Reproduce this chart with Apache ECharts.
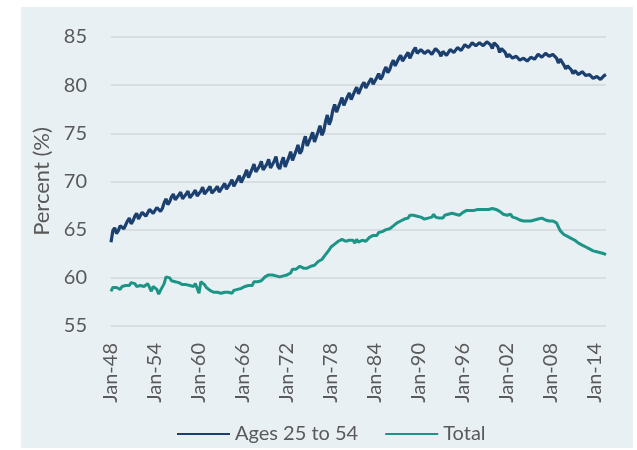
<!DOCTYPE html>
<html>
<head>
<meta charset="utf-8">
<script src="https://cdn.jsdelivr.net/npm/echarts@6/dist/echarts.min.js"></script>
<style>
html,body{margin:0;padding:0;background:#ffffff;}
#chart{width:637px;height:450px;}
</style>
</head>
<body>
<div id="chart"></div>
<script>
// Quarterly observations, Jan-1948 .. Jul-2015
const startYear = 1948;
const quarterMonths = ['Jan', 'Apr', 'Jul', 'Oct'];
const tickLabels = ['Jan-48','Jan-54','Jan-60','Jan-66','Jan-72','Jan-78','Jan-84','Jan-90','Jan-96','Jan-02','Jan-08','Jan-14'];
const seriesNames = ['Ages 25 to 54', 'Total'];

const ages25to54 = [
  63.7, 64.9, 65.2, 64.6,  // 1948
  64.9, 65.4, 65.6, 65.1,
  65.3, 65.9, 66.2, 65.6,  // 1950
  65.9, 66.4, 66.7, 66.1,
  66.2, 66.8, 67.0, 66.4,
  66.5, 67.1, 67.2, 66.7,
  66.8, 67.3, 67.5, 66.9,
  67.2, 67.8, 68.2, 67.6,  // 1955
  67.9, 68.4, 68.7, 68.1,
  68.1, 68.6, 68.9, 68.2,
  68.2, 68.7, 69.0, 68.3,
  68.3, 68.8, 69.1, 68.5,
  68.5, 69.0, 69.4, 68.7,  // 1960
  68.7, 69.2, 69.5, 68.8,
  68.7, 69.2, 69.5, 68.9,
  69.0, 69.5, 69.8, 69.2,
  69.2, 69.8, 70.2, 69.5,
  69.6, 70.2, 70.6, 69.9,  // 1965
  70.0, 70.7, 71.2, 70.4,
  70.6, 71.3, 71.8, 71.0,
  70.9, 71.6, 72.1, 71.2,
  71.1, 71.8, 72.3, 71.4,
  71.4, 72.1, 72.6, 71.6,  // 1970
  71.3, 72.0, 72.5, 71.5,
  71.7, 72.5, 73.1, 72.2,
  72.3, 73.2, 73.8, 72.9,
  73.2, 74.1, 74.7, 73.7,
  73.7, 74.6, 75.1, 74.1,  // 1975
  74.3, 75.2, 75.8, 74.8,
  75.2, 76.2, 76.9, 75.9,
  76.4, 77.4, 78.0, 77.2,
  77.4, 78.2, 78.7, 77.9,
  78.0, 78.8, 79.2, 78.5,  // 1980
  78.6, 79.4, 79.8, 79.1,
  79.3, 80.0, 80.3, 79.7,
  79.8, 80.4, 80.7, 80.1,
  80.2, 80.8, 81.2, 80.6,
  80.9, 81.5, 81.9, 81.3,  // 1985
  81.6, 82.2, 82.6, 82.0,
  82.2, 82.8, 83.1, 82.5,
  82.5, 83.1, 83.4, 82.8,
  83.0, 83.6, 83.9, 83.3,
  83.2, 83.7, 83.8, 83.3,  // 1990
  83.1, 83.6, 83.7, 83.2,
  83.3, 83.8, 83.9, 83.4,
  83.0, 83.5, 83.6, 83.1,
  83.2, 83.7, 83.8, 83.4,
  83.4, 83.9, 84.0, 83.6,  // 1995
  83.7, 84.2, 84.3, 83.9,
  83.9, 84.4, 84.5, 84.1,
  83.9, 84.4, 84.5, 84.1,
  83.9, 84.5, 84.6, 84.2,
  83.8, 84.4, 84.5, 84.0,  // 2000
  83.4, 83.8, 83.9, 83.4,
  82.9, 83.2, 83.3, 82.8,
  82.7, 83.0, 83.1, 82.6,
  82.5, 82.8, 82.9, 82.5,
  82.6, 82.9, 83.0, 82.7,  // 2005
  82.8, 83.2, 83.3, 82.9,
  82.9, 83.3, 83.4, 83.0,
  82.8, 83.2, 83.3, 82.8,
  82.3, 82.7, 82.6, 82.1,
  81.7, 82.0, 82.1, 81.6,  // 2010
  81.2, 81.5, 81.6, 81.1,
  81.0, 81.4, 81.5, 81.0,
  80.8, 81.1, 81.2, 80.7,
  80.6, 80.9, 81.0, 80.6,
  80.7, 81.0, 81.1         // 2015
];

const total = [
  58.6, 59.0, 58.8, 59.0,  // 1948
  58.9, 58.8, 59.1, 59.0,
  59.2, 59.4, 59.2, 59.5,  // 1950
  59.3, 59.4, 59.1, 59.3,
  59.2, 59.4, 59.1, 59.3,
  59.4, 59.0, 58.6, 59.1,
  59.0, 58.8, 58.3, 58.7,
  58.9, 59.4, 60.1, 59.9,  // 1955
  60.0, 59.7, 59.8, 59.6,
  59.7, 59.5, 59.6, 59.3,
  59.4, 59.3, 59.5, 59.2,
  59.3, 59.1, 59.4, 59.2,
  58.4, 59.6, 59.5, 59.3,  // 1960
  59.0, 58.9, 58.7, 58.6,
  58.5, 58.4, 58.5, 58.3,
  58.4, 58.3, 58.5, 58.4,
  58.5, 58.6, 58.4, 58.7,
  58.6, 58.8, 58.7, 58.9,  // 1965
  59.0, 59.1, 58.9, 59.2,
  59.3, 59.2, 59.6, 59.5,
  59.6, 59.8, 59.7, 59.9,
  60.1, 60.0, 60.3, 60.2,
  60.3, 60.4, 60.2, 60.3,  // 1970
  60.1, 60.0, 60.2, 60.1,
  60.3, 60.2, 60.5, 60.9,
  61.0, 60.9, 61.1, 61.2,
  61.1, 61.0, 61.2, 61.0,
  61.1, 61.2, 61.0, 61.3,  // 1975
  61.5, 61.7, 61.6, 61.9,
  62.1, 62.4, 62.6, 62.9,
  63.2, 63.4, 63.5, 63.6,
  63.8, 63.9, 64.0, 63.8,
  63.8, 63.6, 63.9, 63.7,  // 1980
  63.9, 63.6, 64.0, 63.7,
  63.8, 63.9, 64.0, 63.8,
  64.0, 64.2, 64.1, 64.4,
  64.5, 64.4, 64.7, 64.6,
  64.8, 64.9, 65.0, 65.1,  // 1985
  65.1, 65.3, 65.4, 65.6,
  65.7, 65.8, 65.9, 66.0,
  66.1, 66.3, 66.2, 66.5,
  66.6, 66.5, 66.7, 66.4,
  66.5, 66.3, 66.4, 66.1,  // 1990
  66.0, 66.2, 66.1, 66.3,
  66.6, 66.3, 66.1, 66.2,
  66.3, 66.2, 66.5, 66.4,
  66.6, 66.5, 66.7, 66.6,
  66.6, 66.7, 66.5, 66.7,  // 1995
  66.8, 66.9, 67.0, 66.9,
  67.0, 67.1, 67.0, 67.1,
  67.1, 67.0, 67.1, 67.0,
  67.1, 67.0, 67.1, 67.2,
  67.2, 67.0, 67.1, 66.9,  // 2000
  66.9, 66.7, 66.6, 66.6,
  66.5, 66.4, 66.6, 66.3,
  66.3, 66.2, 66.1, 66.0,
  66.0, 65.9, 66.0, 65.9,
  65.8, 65.9, 66.0, 66.0,  // 2005
  66.1, 66.1, 66.0, 66.2,
  66.1, 66.0, 66.1, 65.9,
  66.0, 65.9, 65.8, 65.7,
  65.6, 64.9, 64.8, 64.5,
  64.6, 64.3, 64.2, 64.1,  // 2010
  64.1, 63.9, 63.8, 63.6,
  63.5, 63.4, 63.3, 63.2,
  63.1, 63.0, 62.9, 62.8,
  62.8, 62.7, 62.7, 62.6,
  62.6, 62.5, 62.4         // 2015
];

const yTicks = [55, 60, 65, 70, 75, 80, 85];

// category labels (one per quarter)
const categories = [];
for (let i = 0; i < ages25to54.length; i++) {
  const yr = startYear + Math.floor(i / 4);
  categories.push(quarterMonths[i % 4] + '-' + String(yr % 100).padStart(2, '0'));
}

const FONT = 'Lato';
const TXT = '#595959';

const chart = echarts.init(document.getElementById('chart'), null, {renderer: 'canvas'});
chart.setOption({
  animation: false,
  backgroundColor: '#ffffff',
  textStyle: {fontFamily: FONT, color: TXT},
  graphic: [{
    type: 'rect', z: -10, silent: true,
    shape: {x: 21, y: 7, width: 612, height: 441},
    style: {fill: '#E8F0F4'}
  }],
  grid: {left: 111, right: 31, top: 37, bottom: 124},
  legend: {
    left: 172, top: 419,
    itemWidth: 53, itemHeight: 14, itemGap: 27,
    icon: 'path://M0,6 L53,6 L53,8 L0,8 Z',
    textStyle: {fontFamily: FONT, fontSize: 20, color: TXT},
    data: seriesNames
  },
  xAxis: {
    type: 'category',
    data: categories,
    boundaryGap: false,
    axisLine: {show: false},
    axisTick: {show: false},
    splitLine: {show: false},
    axisLabel: {
      rotate: 90,
      margin: 17,
      fontFamily: FONT, fontSize: 20, color: TXT,
      interval: function (idx, val) { return tickLabels.indexOf(val) !== -1; }
    }
  },
  yAxis: {
    type: 'value',
    min: yTicks[0], max: yTicks[yTicks.length - 1], interval: 5,
    name: 'Percent (%)',
    nameLocation: 'middle',
    nameRotate: 90,
    nameGap: 57,
    nameTextStyle: {fontFamily: FONT, fontSize: 22, color: TXT},
    axisLine: {show: false},
    axisTick: {show: false},
    axisLabel: {margin: 24, fontFamily: FONT, fontSize: 20, color: TXT},
    splitLine: {lineStyle: {color: '#D8DDE0', width: 2}}
  },
  series: [
    {
      name: seriesNames[0], type: 'line', data: ages25to54,
      symbol: 'none', smooth: false,
      lineStyle: {color: '#1B3F6F', width: 3.2},
      itemStyle: {color: '#1B3F6F'}
    },
    {
      name: seriesNames[1], type: 'line', data: total,
      symbol: 'none', smooth: false,
      lineStyle: {color: '#1C9587', width: 3},
      itemStyle: {color: '#1C9587'}
    }
  ]
});
</script>
</body>
</html>
